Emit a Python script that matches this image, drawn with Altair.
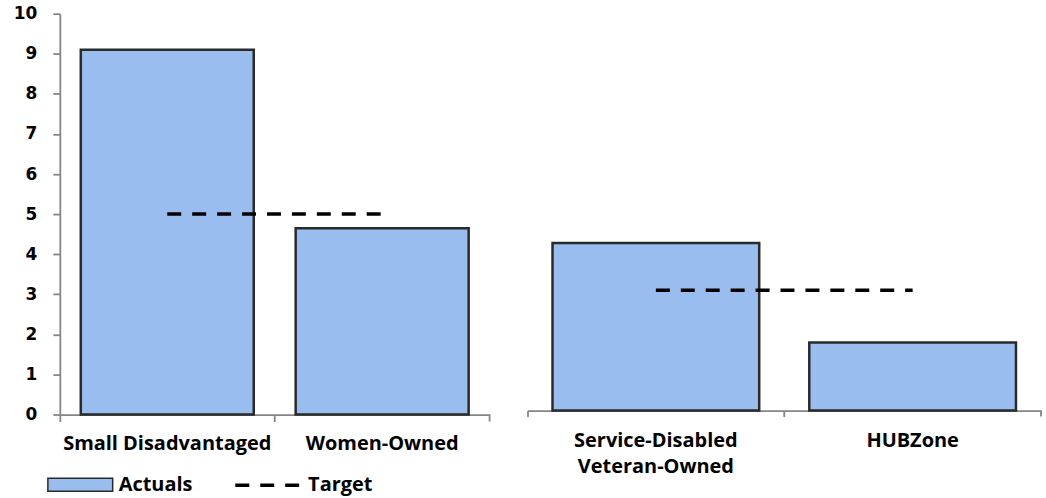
import altair as alt
import pandas as pd

# ---- data ----
categories_left = ["Small Disadvantaged", "Women-Owned"]
actuals_left = [9.1, 4.65]
target_left = [5.0, 5.0]

categories_right = ["Service-Disabled Veteran-Owned", "HUBZone"]
actuals_right = [4.18, 1.70]
target_right = [3.0, 3.0]

y_ticks = list(range(0, 11))

BAR_FILL = "#99BDEE"
BAR_STROKE = "#2A2A2A"
AXIS_GRAY = "#868686"
LABEL_FONT = "Open Sans"
LABEL_SIZE = 20


def panel(cats, acts, tgts, width, height, ymax, show_y, label_pad, tick_len, show_legend):
    df = pd.DataFrame({
        "category": cats,
        "value": acts,
        "target": tgts,
        "series": ["Actuals"] * len(cats),
        "tseries": ["Target"] * len(cats),
    })
    x_axis = alt.Axis(
        title=None, labelAngle=0, bandPosition=0,
        labelFont=LABEL_FONT, labelFontWeight="bold", labelFontSize=LABEL_SIZE,
        labelColor="black", labelPadding=label_pad, labelBaseline="top",
        labelLineHeight=26, labelLimit=400,
        labelExpr="datum.value == 'Service-Disabled Veteran-Owned' ? ['Service-Disabled', 'Veteran-Owned'] : datum.label",
        domainColor=AXIS_GRAY, domainWidth=1.8, tickColor=AXIS_GRAY,
        tickWidth=1.8, tickSize=tick_len, grid=False,
    )
    x = alt.X("category:N", sort=cats,
              scale=alt.Scale(paddingInner=0, paddingOuter=0), axis=x_axis)
    if show_y:
        y_axis = alt.Axis(
            title=None, values=y_ticks, grid=False,
            labelFont="DejaVu Sans", labelFontWeight="bold", labelFontSize=17,
            labelColor="black", labelPadding=16, tickSize=7,
            domainColor=AXIS_GRAY, domainWidth=1.8, tickColor=AXIS_GRAY,
            tickWidth=1.8,
        )
    else:
        y_axis = None
    y_scale = alt.Scale(domain=[0, ymax], nice=False)

    fill_legend = alt.Legend(
        title=None, orient="none", legendX=-13, legendY=439, padding=0,
        symbolType="M-1,-0.2H1V0.2H-1Z", symbolSize=4225,
        symbolStrokeColor=BAR_STROKE, symbolStrokeWidth=1.5, symbolOpacity=1,
        labelFont=LABEL_FONT, labelFontWeight="bold", labelFontSize=LABEL_SIZE,
        labelColor="black", labelOffset=5,
    ) if show_legend else None
    dash_legend = alt.Legend(
        title=None, orient="none", legendX=174, legendY=439, padding=0,
        symbolType="stroke", symbolSize=4096, symbolStrokeWidth=3.5,
        symbolStrokeColor="black",
        labelFont=LABEL_FONT, labelFontWeight="bold", labelFontSize=LABEL_SIZE,
        labelColor="black", labelOffset=7,
    ) if show_legend else None

    bars = alt.Chart(df).mark_bar(
        width=alt.RelativeBandSize(0.805), stroke=BAR_STROKE, strokeWidth=2.5,
        opacity=1,
    ).encode(
        x=x,
        y=alt.Y("value:Q", scale=y_scale, axis=y_axis),
        fill=alt.Fill("series:N", scale=alt.Scale(domain=["Actuals"], range=[BAR_FILL]),
                      legend=fill_legend),
    )
    line = alt.Chart(df).mark_line(color="black", strokeWidth=3.5).encode(
        x=alt.X("category:N", sort=cats),
        y=alt.Y("target:Q", scale=y_scale),
        strokeDash=alt.StrokeDash("tseries:N",
                                  scale=alt.Scale(domain=["Target"], range=[[14, 11]]),
                                  legend=dash_legend),
    )
    end_tick = alt.Chart(df.head(1)).mark_rule(color=AXIS_GRAY, strokeWidth=1.8).encode(
        x=alt.value(width), y=alt.value(height), y2=alt.value(height + tick_len)
    )
    return alt.layer(bars, line, end_tick).properties(width=width, height=height)


left = panel(categories_left, actuals_left, target_left, 431, 402, 10, True, 12, 7, True)
right = panel(categories_right, actuals_right, target_right, 515, 398, 9.9, False, 14, 6, False)

chart = alt.hconcat(left, right, spacing=36).resolve_scale(
    fill="independent", strokeDash="independent", y="independent", x="independent"
).properties(
    padding={"left": 13, "top": 4, "right": 4, "bottom": 4},
    background="white",
).configure_view(stroke=None)

chart.save("out.html", embed_options={"renderer": "svg", "actions": False})
